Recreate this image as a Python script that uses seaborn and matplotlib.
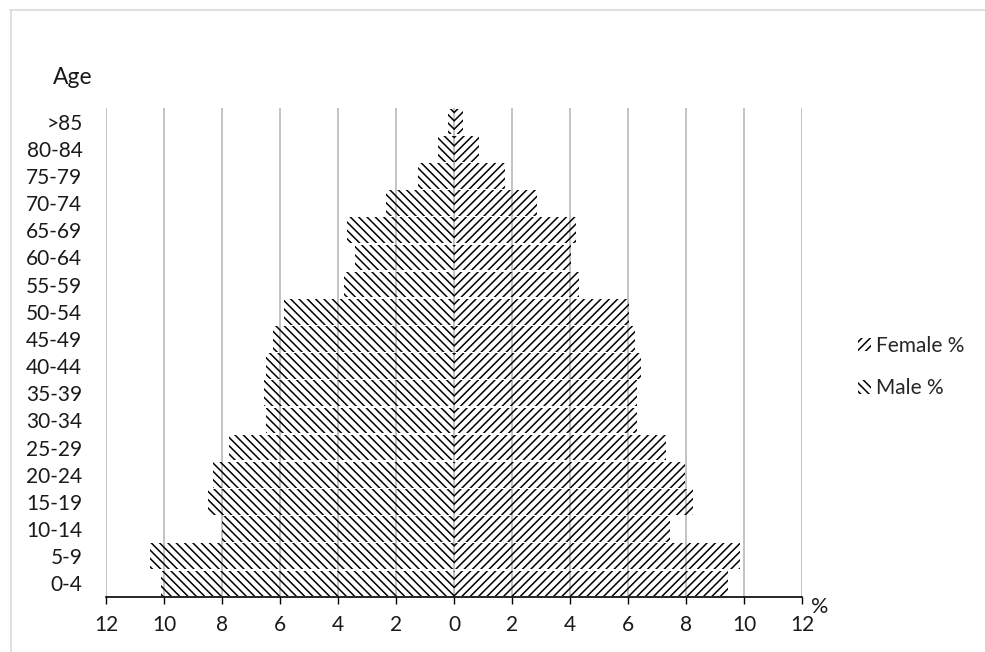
import matplotlib
matplotlib.use("Agg")
import matplotlib.pyplot as plt
from matplotlib.patches import Patch
import seaborn as sns
import pandas as pd

ages = ["0-4", "5-9", "10-14", "15-19", "20-24", "25-29", "30-34", "35-39",
        "40-44", "45-49", "50-54", "55-59", "60-64", "65-69", "70-74",
        "75-79", "80-84", ">85"]
male_pct = [10.1, 10.5, 8.0, 8.5, 8.3, 7.75, 6.5, 6.55, 6.5, 6.25, 5.85,
            3.8, 3.4, 3.7, 2.35, 1.25, 0.55, 0.2]
female_pct = [9.45, 9.85, 7.45, 8.25, 7.95, 7.3, 6.3, 6.3, 6.45, 6.25, 6.05,
              4.3, 4.05, 4.2, 2.85, 1.75, 0.85, 0.3]
x_ticks = [-12, -10, -8, -6, -4, -2, 0, 2, 4, 6, 8, 10, 12]
x_tick_labels = ["12", "10", "8", "6", "4", "2", "0", "2", "4", "6", "8", "10", "12"]

sns.set_theme(style="white")
plt.rcParams["font.family"] = ["Lato", "DejaVu Sans"]
plt.rcParams["hatch.linewidth"] = 1.1

df = pd.DataFrame({
    "age": ages * 2,
    "value": [-v for v in male_pct] + female_pct,
    "sex": ["Male %"] * len(ages) + ["Female %"] * len(ages),
})

fig = plt.figure(figsize=(9.85, 6.52), dpi=100)
ax = fig.add_axes([106 / 985, 1 - 597 / 652, (802 - 106) / 985, (597 - 108) / 652])

order = ages[::-1]
sns.barplot(data=df, x="value", y="age", hue="sex", order=order,
            hue_order=["Male %", "Female %"], dodge=False, orient="h",
            width=0.94, ax=ax, legend=False,
            palette={"Male %": "white", "Female %": "white"})

hatches = {"Male %": "\\\\\\\\", "Female %": "////"}
for container, name in zip(ax.containers, ["Male %", "Female %"]):
    for bar in container:
        bar.set_facecolor("none")
        bar.set_edgecolor("black")
        bar.set_linewidth(0)
        bar.set_hatch(hatches[name])
        bar.set_zorder(2)

ax.set_xlim(-12, 12)
ax.set_ylim(len(ages) - 0.5, -0.5)
ax.set_xticks(x_ticks)
ax.set_xticklabels(x_tick_labels)
ax.grid(axis="x", color="#b3b3b3", linewidth=1.1, zorder=0)
ax.set_axisbelow(True)
for s in ["top", "right", "left"]:
    ax.spines[s].set_visible(False)
ax.spines["bottom"].set_color("black")
ax.spines["bottom"].set_linewidth(1.2)
ax.spines["bottom"].set_zorder(3)
ax.tick_params(axis="x", bottom=True, length=5, width=1, color="black",
               labelsize=15, pad=8, labelcolor="#1a1a1a")
ax.tick_params(axis="y", left=False, length=0, labelsize=15, pad=17, labelcolor="#1a1a1a")
ax.set_xlabel("")
ax.set_ylabel("")

fig.text(53 / 985, 1 - 77 / 652, "Age", fontsize=16.5, color="#1a1a1a",
         ha="left", va="center")
fig.text(811 / 985, 1 - 607 / 652, "%", fontsize=15.5, color="#1a1a1a",
         ha="left", va="center")

handles = [Patch(facecolor="white", edgecolor="black", linewidth=0, hatch="////", label="Female %"),
           Patch(facecolor="white", edgecolor="black", linewidth=0, hatch="\\\\\\\\", label="Male %")]
fig.legend(handles=handles, loc="center left",
           bbox_to_anchor=(848 / 985, 1 - 367 / 652), frameon=False,
           fontsize=15, handlelength=0.6, handleheight=0.6,
           handletextpad=0.25, labelspacing=1.1, borderpad=0)

# light outer border (top and left)
fig.add_artist(plt.Line2D([10 / 985, 1], [1 - 10 / 652, 1 - 10 / 652],
                          transform=fig.transFigure, color="#d9d9d9", linewidth=1.2))
fig.add_artist(plt.Line2D([11 / 985, 11 / 985], [0, 1 - 10 / 652],
                          transform=fig.transFigure, color="#d9d9d9", linewidth=1.2))

fig.savefig("out.png", dpi=100, facecolor="white")
